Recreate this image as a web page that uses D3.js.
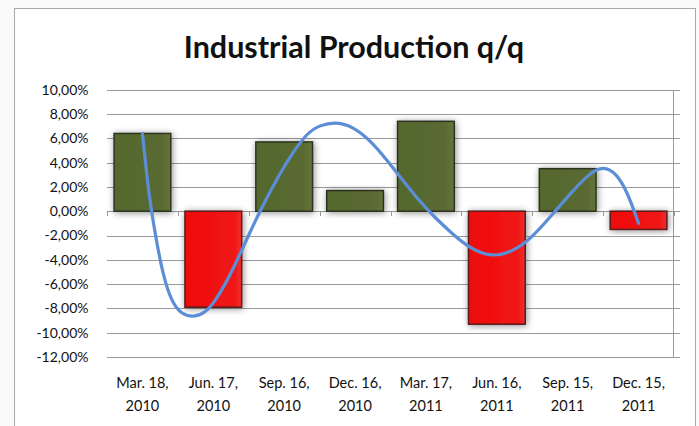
<!DOCTYPE html>
<html>
<head>
<meta charset="utf-8">
<script src="https://cdn.jsdelivr.net/npm/d3@7"></script>
<style>
  html, body { margin: 0; padding: 0; background: #fafafa; }
  svg { display: block; }
</style>
</head>
<body>
<script>
// ---- data ----
const title = "Industrial Production q/q";
const categories = ["Mar. 18, 2010", "Jun. 17, 2010", "Sep. 16, 2010", "Dec. 16, 2010",
                    "Mar. 17, 2011", "Jun. 16, 2011", "Sep. 15, 2011", "Dec. 15, 2011"];
const categoryLines = [["Mar. 18,", "2010"], ["Jun. 17,", "2010"], ["Sep. 16,", "2010"], ["Dec. 16,", "2010"],
                       ["Mar. 17,", "2011"], ["Jun. 16,", "2011"], ["Sep. 15,", "2011"], ["Dec. 15,", "2011"]];
const values = [6.4, -7.9, 5.7, 1.7, 7.4, -9.3, 3.5, -1.5];
// trend curve: position in category units, value in %
const trendPos = [0, 0.06, 0.12, 0.2, 0.29, 0.41, 0.55, 0.72, 0.88, 1.02, 1.19, 1.35, 1.52, 1.70, 1.94,
                  2.13, 2.32, 2.50, 2.74, 2.97, 3.21, 3.45, 3.68, 3.92, 4.14, 4.39, 4.62, 4.93, 5.23,
                  5.51, 5.80, 6.08, 6.31, 6.50, 6.69, 6.85, 7.0];
const trendVal = [6.41, 2.98, 0.24, -2.51, -5.25, -7.45, -8.49, -8.73, -8.40, -7.45, -5.80, -3.88, -1.69, 0.51, 3.12,
                  4.90, 6.41, 7.09, 7.37, 6.95, 5.86, 4.21, 2.5, 0.75, -0.6, -1.96, -3.05, -3.80, -3.33,
                  -2.10, -0.17, 1.74, 3.12, 3.72, 3.12, 1.47, -1.0];
const tickValues = [10, 8, 6, 4, 2, 0, -2, -4, -6, -8, -10, -12];
const tickLabels = ["10,00%", "8,00%", "6,00%", "4,00%", "2,00%", "0,00%", "-2,00%", "-4,00%", "-6,00%", "-8,00%", "-10,00%", "-12,00%"];

// ---- layout ----
const W = 699, H = 426;
const svg = d3.select("body").append("svg").attr("width", W).attr("height", H);

const defs = svg.append("defs");
const f = defs.append("filter").attr("id", "glow").attr("x", "-30%").attr("y", "-30%").attr("width", "160%").attr("height", "160%");
f.append("feGaussianBlur").attr("in", "SourceAlpha").attr("stdDeviation", 3.5).attr("result", "b");
f.append("feOffset").attr("in", "b").attr("dx", 1).attr("dy", 1).attr("result", "o");
f.append("feComponentTransfer").attr("in", "o").attr("result", "s")
  .append("feFuncA").attr("type", "linear").attr("slope", 0.45);
const fm = f.append("feMerge");
fm.append("feMergeNode").attr("in", "s");
fm.append("feMergeNode").attr("in", "SourceGraphic");

const gGreen = defs.append("linearGradient").attr("id", "gGreen").attr("x1", 0).attr("x2", 1).attr("y1", 0).attr("y2", 0);
gGreen.append("stop").attr("offset", "0%").attr("stop-color", "#54672d");
gGreen.append("stop").attr("offset", "85%").attr("stop-color", "#5a6b32");
gGreen.append("stop").attr("offset", "100%").attr("stop-color", "#64743c");
const gRed = defs.append("linearGradient").attr("id", "gRed").attr("x1", 0).attr("x2", 1).attr("y1", 0).attr("y2", 0);
gRed.append("stop").attr("offset", "0%").attr("stop-color", "#ee0f0f");
gRed.append("stop").attr("offset", "85%").attr("stop-color", "#f11313");
gRed.append("stop").attr("offset", "100%").attr("stop-color", "#ee3030");

// chart frame
svg.append("rect").attr("x", 14.5).attr("y", 8.5).attr("width", 681).attr("height", 440)
  .attr("fill", "#ffffff").attr("stroke", "#a8a8a8").attr("stroke-width", 1);

svg.append("text").attr("x", 354).attr("y", 58).attr("text-anchor", "middle")
  .attr("font-family", "Lato, 'Open Sans', sans-serif").attr("font-weight", "bold")
  .attr("font-size", 30.5).attr("fill", "#111").text(title);

const x = d3.scaleBand().domain(categories).range([107, 674]).paddingInner(0.2).paddingOuter(0.1);
const y = d3.scaleLinear().domain([-12, 10]).range([357, 89.7]);

// gridlines
svg.append("g").selectAll("line").data(tickValues).join("line")
  .attr("x1", 107).attr("x2", 680)
  .attr("y1", d => Math.round(y(d)) + 0.5).attr("y2", d => Math.round(y(d)) + 0.5)
  .attr("stroke", "#9a9a9a").attr("stroke-width", 1);
// right plot border
svg.append("line").attr("x1", 673.5).attr("x2", 673.5).attr("y1", Math.round(y(10)) + 0.5).attr("y2", Math.round(y(-12)) + 0.5)
  .attr("stroke", "#9a9a9a");

// y labels
const lab = new Map(tickValues.map((v, i) => [v, tickLabels[i]]));
const yAxis = d3.axisLeft(y).tickValues(tickValues).tickSize(0).tickPadding(0).tickFormat(v => lab.get(v));
const ya = svg.append("g").attr("transform", "translate(88.5,0)").call(yAxis);
ya.select(".domain").remove();
ya.selectAll("text").attr("font-family", "Lato, 'Open Sans', sans-serif").attr("font-size", 14).attr("fill", "#111");

// category ticks on zero line
const step = x.step();
const bounds = d3.range(categories.length + 1).map(i => 107 + i * step);
svg.append("g").selectAll("line").data(bounds).join("line")
  .attr("x1", d => Math.round(d) + 0.5).attr("x2", d => Math.round(d) + 0.5)
  .attr("y1", Math.round(y(0))).attr("y2", Math.round(y(0)) + 5)
  .attr("stroke", "#9a9a9a");

// bars
svg.append("g").selectAll("rect").data(values).join("rect")
  .attr("x", (d, i) => x(categories[i]))
  .attr("width", x.bandwidth())
  .attr("y", d => y(Math.max(0, d)))
  .attr("height", d => Math.abs(y(d) - y(0)))
  .attr("fill", d => d >= 0 ? "url(#gGreen)" : "url(#gRed)")
  .attr("stroke", d => d >= 0 ? "#2e3320" : "#5a1a1a")
  .attr("stroke-width", 1.5)
  .attr("filter", "url(#glow)");

// trend curve
const xt = d3.scaleLinear().domain([0, categories.length - 1])
  .range([x(categories[0]) + x.bandwidth() / 2, x(categories[categories.length - 1]) + x.bandwidth() / 2]);
const line = d3.line().x(d => xt(d[0])).y(d => y(d[1])).curve(d3.curveBasis);
svg.append("path").datum(trendPos.map((p, i) => [p, trendVal[i]]))
  .attr("d", line).attr("fill", "none").attr("stroke", "#5b8ed6").attr("stroke-width", 3.2)
  .attr("stroke-linecap", "round").attr("stroke-linejoin", "round");

// x labels
const xl = svg.append("g");
categories.forEach((c, i) => {
  const cx = x(c) + x.bandwidth() / 2;
  const t = xl.append("text").attr("text-anchor", "middle")
    .attr("font-family", "Lato, 'Open Sans', sans-serif").attr("font-size", 14.5).attr("fill", "#111");
  t.append("tspan").attr("x", cx).attr("y", 388).text(categoryLines[i][0]);
  t.append("tspan").attr("x", cx).attr("y", 411).text(categoryLines[i][1]);
});
</script>
</body>
</html>
